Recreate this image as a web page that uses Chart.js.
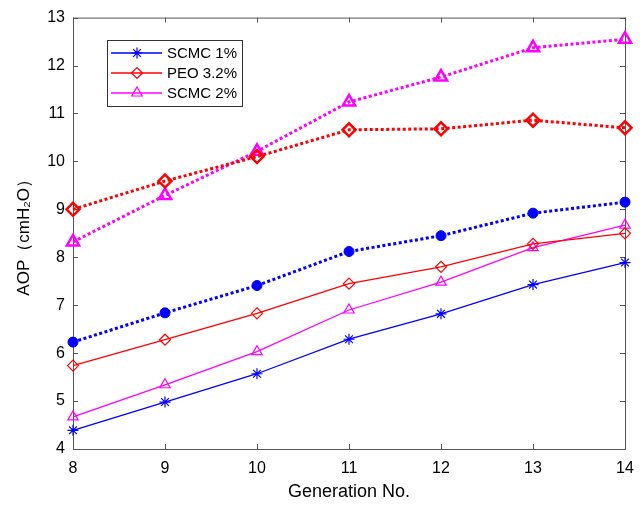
<!DOCTYPE html>
<html>
<head>
<meta charset="utf-8">
<script src="https://cdn.jsdelivr.net/npm/chart.js@4.4.0/dist/chart.umd.min.js"></script>
<style>
  body { margin: 0; background: #fff; }
  #wrap { width: 644px; height: 506px; }
</style>
</head>
<body>
<div id="wrap"><canvas id="aopChart" width="644" height="506"></canvas></div>
<script>
// generation numbers on the x axis
const generations = [8, 9, 10, 11, 12, 13, 14];

// solid lines (in legend)
const scmc1Solid = [4.39, 4.98, 5.57, 6.29, 6.82, 7.43, 7.89];
const peoSolid = [5.74, 6.28, 6.83, 7.45, 7.80, 8.28, 8.50];
const scmc2Solid = [4.67, 5.34, 6.03, 6.90, 7.48, 8.20, 8.67];

// dotted lines (not in legend)
const scmc1Dotted = [6.23, 6.84, 7.41, 8.12, 8.45, 8.92, 9.15];
const peoDotted = [9.00, 9.59, 10.10, 10.66, 10.68, 10.86, 10.70];
const scmc2Dotted = [8.32, 9.29, 10.21, 11.24, 11.76, 12.37, 12.55];

const yMin = 4, yMax = 13;

const BLUE = "#0000ff", RED = "#ff0000", MAGENTA = "#ff00ff";
const NONE = "rgba(0,0,0,0)";

function solid(label, data, color, style, radius) {
  return {
    label: label, data: data, inLegend: true,
    borderColor: color, borderWidth: 1.3,
    pointStyle: style, pointRadius: radius, pointBorderWidth: 1.2,
    pointBorderColor: color, pointBackgroundColor: NONE,
    tension: 0, clip: false,
  };
}

function dotted(label, data, color, style, radius, filled) {
  return {
    label: label, data: data, inLegend: false,
    borderColor: color, borderWidth: 3, borderDash: [3, 2.5],
    pointStyle: style, pointRadius: radius, pointBorderWidth: filled ? 1 : 2.5,
    pointBorderColor: color, pointBackgroundColor: filled ? color : NONE,
    tension: 0, clip: false,
  };
}

// box around the plot with inward ticks on all four sides
const frame = {
  id: "frame",
  beforeDatasetsDraw(chart) {
    const { ctx, chartArea: a, scales } = chart;
    ctx.save();
    ctx.strokeStyle = "#555";
    ctx.lineWidth = 1;
    ctx.strokeRect(a.left + 0.5, a.top + 0.5, a.right - a.left, a.bottom - a.top);
    ctx.beginPath();
    const len = 5;
    scales.x.ticks.forEach((t, i) => {
      const px = Math.round(scales.x.getPixelForTick(i)) + 0.5;
      ctx.moveTo(px, a.bottom); ctx.lineTo(px, a.bottom - len);
      ctx.moveTo(px, a.top); ctx.lineTo(px, a.top + len);
    });
    scales.y.ticks.forEach((t) => {
      const py = Math.round(scales.y.getPixelForValue(t.value)) + 0.5;
      ctx.moveTo(a.left, py); ctx.lineTo(a.left + len, py);
      ctx.moveTo(a.right, py); ctx.lineTo(a.right - len, py);
    });
    ctx.stroke();
    ctx.restore();
  },
};

// legend box in the upper left of the plot
const boxLegend = {
  id: "boxLegend",
  afterDatasetsDraw(chart) {
    const ctx = chart.ctx;
    const items = chart.data.datasets.filter((d) => d.inLegend);
    const x0 = 107, y0 = 40, w = 135, h = 66;
    ctx.save();
    ctx.fillStyle = "#fff";
    ctx.fillRect(x0, y0, w, h);
    ctx.strokeStyle = "#333";
    ctx.lineWidth = 1;
    ctx.strokeRect(x0 + 0.5, y0 + 0.5, w, h);
    items.forEach((d, i) => {
      const y = 53 + i * 20;
      ctx.strokeStyle = d.borderColor;
      ctx.lineWidth = 1.3;
      ctx.beginPath();
      ctx.moveTo(111, y); ctx.lineTo(162, y);
      ctx.stroke();
      ctx.fillStyle = NONE;
      ctx.lineWidth = 1.2;
      Chart.helpers.drawPoint(ctx, {
        pointStyle: d.pointStyle, radius: d.pointRadius, borderWidth: 1.2, rotation: 0,
      }, 137, y);
      ctx.fillStyle = "#000";
      ctx.font = "15px 'Liberation Sans', Arial, sans-serif";
      ctx.textBaseline = "middle";
      ctx.textAlign = "left";
      ctx.fillText(d.label, 167, y + 1);
    });
    ctx.restore();
  },
};

const ctx = document.getElementById("aopChart").getContext("2d");
new Chart(ctx, {
  type: "line",
  data: {
    labels: generations,
    datasets: [
      dotted("SCMC 1% (dotted)", scmc1Dotted, BLUE, "circle", 5, true),
      dotted("PEO 3.2% (dotted)", peoDotted, RED, "rectRot", 6.5, false),
      dotted("SCMC 2% (dotted)", scmc2Dotted, MAGENTA, "triangle", 7, false),
      solid("SCMC 1%", scmc1Solid, BLUE, "star", 5.5),
      solid("PEO 3.2%", peoSolid, RED, "rectRot", 5.5),
      solid("SCMC 2%", scmc2Solid, MAGENTA, "triangle", 6),
    ],
  },
  options: {
    responsive: false,
    animation: false,
    layout: { padding: { top: 14, right: 19, left: 0, bottom: 0 } },
    plugins: {
      legend: { display: false },
      tooltip: { enabled: false },
    },
    scales: {
      x: {
        type: "category",
        offset: false,
        grid: { display: false, drawTicks: false },
        border: { display: false },
        ticks: {
          padding: 10,
          color: "#000",
          font: { family: "'Liberation Sans', Arial, sans-serif", size: 16 },
        },
        title: {
          display: true,
          text: "Generation No.",
          color: "#000",
          padding: { top: 0, bottom: 3 },
          font: { family: "'Liberation Sans', Arial, sans-serif", size: 18 },
        },
        afterFit: (s) => { s.height = 57; },
      },
      y: {
        min: yMin,
        max: yMax,
        grid: { display: false, drawTicks: false },
        border: { display: false },
        ticks: {
          stepSize: 1,
          padding: 8,
          color: "#000",
          font: { family: "'Liberation Sans', Arial, sans-serif", size: 16 },
        },
        title: {
          display: true,
          text: "AOP（cmH₂O）",
          color: "#000",
          padding: { top: 14, bottom: 0 },
          font: { family: "'Liberation Sans', Arial, sans-serif", size: 17 },
        },
        afterFit: (s) => { s.width = 73; },
      },
    },
  },
  plugins: [frame, boxLegend],
});
</script>
</body>
</html>
